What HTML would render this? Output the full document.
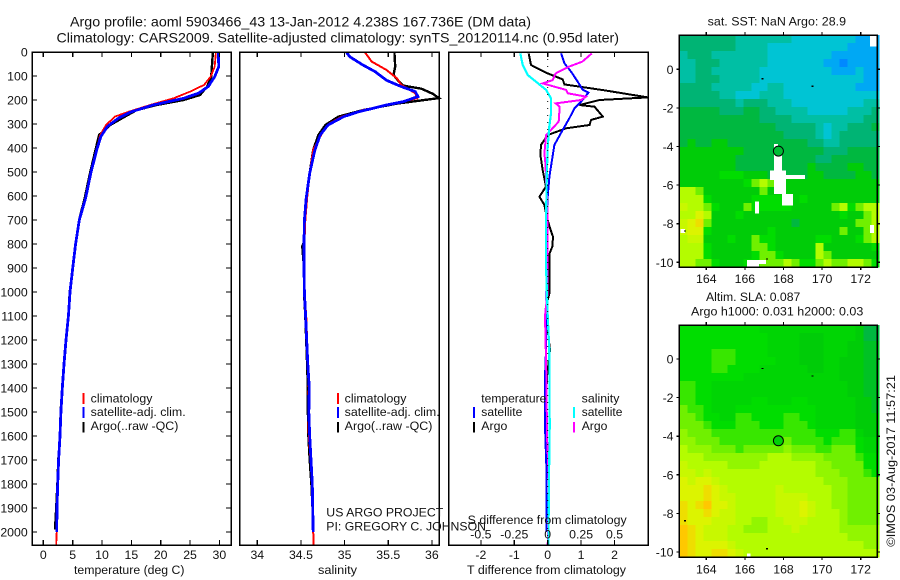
<!DOCTYPE html>
<html lang="en">
<head>
<meta charset="utf-8">
<title>Argo profile 5903466_43</title>
<style>
html,body{margin:0;padding:0;background:#fff;}
svg{display:block;font-family:"Liberation Sans",sans-serif;fill:#000;}
text{font-size:12.3px;fill:#111;}
.line{fill:none;shape-rendering:crispEdges;stroke-linejoin:miter;}
.frame{fill:none;stroke:#000;stroke-width:1.5;shape-rendering:crispEdges;}
.tick{stroke:#000;stroke-width:1.2;shape-rendering:crispEdges;}
.cell{shape-rendering:crispEdges;}
</style>
</head>
<body>
<svg id="fig" width="900" height="580" viewBox="0 0 900 580" xmlns="http://www.w3.org/2000/svg">
  <rect width="900" height="580" fill="#fff"/>
  <text x="70" y="26.7" style="font-size:14px" textLength="461" lengthAdjust="spacingAndGlyphs">Argo profile: aoml 5903466_43 13-Jan-2012 4.238S 167.736E (DM data)</text>
  <text x="56.5" y="42.7" style="font-size:14px" textLength="562.5" lengthAdjust="spacingAndGlyphs">Climatology: CARS2009. Satellite-adjusted climatology: synTS_20120114.nc (0.95d later)</text>

  <g id="plots"></g>
  <g id="maps"></g>

  <text x="74" y="574" textLength="110.5" lengthAdjust="spacingAndGlyphs">temperature (deg C)</text>
  <text x="318" y="574" textLength="39" lengthAdjust="spacingAndGlyphs">salinity</text>
  <text x="467" y="574" textLength="159" lengthAdjust="spacingAndGlyphs">T difference from climatology</text>
  <text x="467.7" y="524" textLength="159" lengthAdjust="spacingAndGlyphs">S difference from climatology</text>

  <rect x="82.5" y="393" width="2" height="11" fill="#f00"/>
  <rect x="82.5" y="407" width="2" height="11" fill="#00f"/>
  <rect x="82.5" y="422" width="2" height="10.5" fill="#000"/>
  <text x="90.7" y="402.7" textLength="61.7" lengthAdjust="spacingAndGlyphs">climatology</text>
  <text x="90.7" y="416.2" textLength="95" lengthAdjust="spacingAndGlyphs">satellite-adj. clim.</text>
  <text x="90.7" y="430.2" textLength="87.7" lengthAdjust="spacingAndGlyphs">Argo(..raw -QC)</text>

  <rect x="337" y="393" width="2" height="11" fill="#f00"/>
  <rect x="337" y="407" width="2" height="11" fill="#00f"/>
  <rect x="337" y="422" width="2" height="10.5" fill="#000"/>
  <text x="344.7" y="402.7" textLength="61.7" lengthAdjust="spacingAndGlyphs">climatology</text>
  <text x="344.7" y="416.2" textLength="95" lengthAdjust="spacingAndGlyphs">satellite-adj. clim.</text>
  <text x="344.7" y="430.2" textLength="87.7" lengthAdjust="spacingAndGlyphs">Argo(..raw -QC)</text>

  <text x="481.3" y="402.7" textLength="65" lengthAdjust="spacingAndGlyphs">temperature</text>
  <rect x="473" y="407" width="2" height="11" fill="#00f"/>
  <rect x="473" y="422" width="2" height="10.5" fill="#000"/>
  <text x="481.3" y="416.2" textLength="41" lengthAdjust="spacingAndGlyphs">satellite</text>
  <text x="481.3" y="430.2" textLength="26" lengthAdjust="spacingAndGlyphs">Argo</text>
  <text x="581.7" y="402.7" textLength="37.7" lengthAdjust="spacingAndGlyphs">salinity</text>
  <rect x="573" y="407" width="2" height="11" fill="#0ff"/>
  <rect x="573" y="422" width="2" height="10.5" fill="#f0f"/>
  <text x="581.7" y="416.2" textLength="40.7" lengthAdjust="spacingAndGlyphs">satellite</text>
  <text x="581.7" y="430.2" textLength="25.7" lengthAdjust="spacingAndGlyphs">Argo</text>

  <text x="326.3" y="516.7" textLength="117" lengthAdjust="spacingAndGlyphs">US ARGO PROJECT</text>
  <text x="326.3" y="530.7" textLength="159.7" lengthAdjust="spacingAndGlyphs">PI: GREGORY C. JOHNSON</text>

  <text x="707.7" y="25.3" textLength="138.3" lengthAdjust="spacingAndGlyphs">sat. SST: NaN Argo: 28.9</text>
  <text x="706" y="301" textLength="94.3" lengthAdjust="spacingAndGlyphs">Altim. SLA: 0.087</text>
  <text x="691" y="315.3" textLength="172.3" lengthAdjust="spacingAndGlyphs">Argo h1000: 0.031 h2000: 0.03</text>
  <text transform="translate(895 546.7) rotate(-90)" x="0" y="0" textLength="171.7" lengthAdjust="spacingAndGlyphs">©IMOS 03-Aug-2017 11:57:21</text>
</svg>

<script>
// ---- axis tick values ----
const depthTicks = [0,100,200,300,400,500,600,700,800,900,1000,1100,1200,1300,1400,1500,1600,1700,1800,1900,2000];
const tempTicks = [0,5,10,15,20,25,30];
const salTicks = [34,34.5,35,35.5,36];
const salTickLabels = ['34','34.5','35','35.5','36'];
const tDiffTicks = [-2,-1,0,1,2];
const sDiffTicks = [-0.5,-0.25,0,0.25,0.5];
const sDiffTickLabels = ['-0.5','-0.25','0','0.25','0.5'];
const lonTicks = [164,166,168,170,172];
const latTicks = [0,-2,-4,-6,-8,-10];

// ---- temperature profiles ----
const tempClimDepth = [0,61,103,137,165,193,221,249,269,304,346,408,505,609,700,800,901,1001,1101,1201,1301,1401,1500,1600,1700,1800,1900,2000,2054];
const tempClimVal = [29.4,29.2,28.5,27.4,25,22.2,18.2,14.5,12.2,10.7,9.7,9.1,8.1,7.2,6.2,5.55,5.05,4.6,4.3,3.9,3.55,3.3,3.05,2.85,2.6,2.45,2.33,2.28,2.2];
const tempArgoDepth = [0,103,144,179,200,221,242,269,304,346,408,505,609,700,800,901,1001,1101,1201,1301,1401,1500,1600,1700,1800,1900,1990];
const tempArgoVal = [28.9,28.6,27.9,26.7,23.9,19.3,15.9,13.9,11.4,9.5,8.9,7.95,7.05,6.1,5.5,5.0,4.5,4.27,3.9,3.5,3.22,2.95,2.85,2.55,2.4,2.2,2.0];
const tempSatDepth = [0,61,103,144,172,193,221,249,276,311,353,408,505,609,700,800,901,1001,1101,1201,1301,1401,1500,1600,1700,1800,1900,2000];
const tempSatVal = [29.8,29.9,29.2,28.1,26.4,23.9,18.7,15,12.8,10.9,9.8,9.1,8.1,7.2,6.14,5.5,5,4.55,4.27,3.87,3.53,3.24,3,2.85,2.6,2.45,2.33,2.28];

// ---- salinity profiles ----
const salClimDepth = [0,40,75,110,137,172,193,221,242,269,297,339,408,505,609,700,800,900,1000,1100,1200,1300,1400,1500,1600,1700,1800,2000,2054];
const salClimVal = [35.23,35.31,35.48,35.6,35.65,35.81,35.83,35.48,35.21,34.97,34.83,34.74,34.64,34.6,34.57,34.55,34.54,34.54,34.54,34.56,34.57,34.58,34.59,34.585,34.59,34.61,34.63,34.64,34.646];
const salArgoDepth = [0,61,96,118,140,153,174,192,215,242,269,304,346,408,505,609,700,790,810,900,1000,1100,1200,1300,1400,1500,1600,1700,1800,1960];
const salArgoVal = [35.57,35.58,35.56,35.61,35.67,35.88,36.01,36.08,35.6,35.21,34.93,34.78,34.7,34.64,34.6,34.56,34.54,34.535,34.515,34.535,34.535,34.55,34.56,34.57,34.58,34.58,34.585,34.6,34.62,34.64];
const salSatDepth = [0,20,54,82,118,144,165,186,207,221,249,269,304,346,408,505,609,700,800,900,1000,1100,1200,1300,1400,1500,1600,1700,1800,1900,2000];
const salSatVal = [35.02,35.06,35.21,35.35,35.48,35.65,35.81,35.84,35.67,35.48,35.16,34.99,34.81,34.72,34.66,34.6,34.56,34.54,34.535,34.535,34.54,34.553,34.566,34.578,34.596,34.59,34.6,34.615,34.63,34.635,34.64];

// ---- difference profiles ----
const tDiffArgoDepth = [6,54,89,114,135,161,189,200,221,228,269,283,304,318,346,387,429,492,561,603,637,686,729,770,810,838,866,1005,1075,1241,1353,1561,1769,2000];
const tDiffArgoVal = [-0.57,-0.5,0,0.45,0.5,1.75,3.0,1.55,0.95,1.4,1.65,1.3,1.25,0.55,0,-0.2,-0.22,-0.15,-0.05,-0.25,-0.1,-0.03,0.06,0.16,0.14,0.06,0.05,0.05,-0.07,0.07,-0.02,-0.07,-0.03,-0.03];
const tDiffSatDepth = [6,47,82,124,158,169,207,235,276,325,387,450,519,603,686,1000,1241,1353,1561,1769,2000];
const tDiffSatVal = [0.4,0.5,0.7,0.9,1.05,1.22,1.0,0.8,0.65,0.45,0.2,0.13,0.05,0,-0.03,-0.03,-0.05,-0.08,-0.08,-0.03,-0.03];
const sDiffSatDepth = [6,54,96,124,158,193,256,311,394,506,686,900,1100,1241,1561,1769,2054];
const sDiffSatVal = [-0.205,-0.187,-0.15,-0.087,-0.012,0.025,0.025,0.012,0,-0.007,-0.012,-0.012,0,0.012,0.015,0.01,0.005];
const sDiffArgoDepth = [6,40,61,89,117,131,158,172,186,200,214,228,290,318,346,422,464,686,1000,1100,1353,1600,1800,2054];
const sDiffArgoVal = [0.33,0.26,0.16,0.06,0.037,-0.037,0.137,0.15,0.287,0.25,0.06,0.09,0.082,0.037,-0.012,-0.025,-0.017,0,0,-0.02,-0.01,-0.005,0.01,0];

// ---- map colour scale (index = level value) ----
const levelColors = ['#0088ff','#00a8f4','#00c4d4','#00bfa4','#00b474','#00b840','#00cc08','#00dd00','#70f000','#b4fc00','#dcf400','#ffc800'];

// ---- satellite SST map levels (rows north to south) ----
const sstRows = [
[4,4,4,4,4,4,4,3,3,3,3,3,3,3,2,2,2,2,2,2,2,2,1,1,1],
[4,4,4,4,4,4,4,3,3,3,3,2,2,2,2,2,2,2,2,2,2,1,1,1,1],
[3,4,4,4,3,3,3,3,3,3,3,2,2,2,2,2,2,2,2,1,1,1,1,1,1],
[3,3,4,4,4,3,3,3,3,3,3,2,2,2,2,2,2,2,1,1,0,1,1,1,1],
[3,3,4,4,3,3,3,3,3,3,2,2,2,2,2,2,2,2,2,1,1,1,2,1,1],
[3,3,4,4,4,3,3,3,3,3,2,2,2,2,2,2,2,2,2,2,2,2,2,1,1],
[4,4,4,4,3,3,3,3,3,2,2,3,3,2,2,2,2,2,2,2,2,2,1,1,1],
[4,4,4,4,4,3,3,2,2,2,3,3,3,2,2,2,2,2,2,2,2,2,2,2,2],
[4,4,4,4,4,4,4,3,4,4,4,3,3,3,2,2,2,2,2,2,2,2,2,3,3],
[5,5,5,5,5,4,4,4,5,5,4,4,3,3,3,3,2,2,2,2,2,3,3,3,4],
[5,5,5,5,5,5,5,5,5,5,4,4,4,4,3,3,3,3,3,3,3,3,3,4,4],
[5,5,5,5,5,5,5,5,5,5,5,5,4,4,4,4,4,3,2,3,3,4,4,4,5],
[5,5,5,5,5,5,5,5,5,5,5,5,5,4,4,4,4,3,2,3,4,4,4,4,4],
[5,6,5,5,6,6,5,5,5,5,5,5,5,5,5,5,4,4,3,3,4,4,4,4,4],
[6,6,6,6,6,6,6,6,5,5,5,5,5,5,5,5,5,5,4,4,4,5,5,5,5],
[6,6,6,6,6,6,6,5,5,5,5,5,5,5,5,5,5,4,4,5,5,5,5,5,5],
[6,6,6,6,6,6,6,5,5,5,5,5,5,5,5,5,6,5,5,5,5,6,6,5,5],
[6,6,6,6,6,7,7,7,6,6,6,5,5,5,5,5,6,6,5,5,5,5,6,6,5],
[6,6,6,6,6,6,6,6,7,8,9,8,6,6,6,6,6,6,6,6,6,6,6,6,6],
[9,9,8,6,6,6,6,6,6,6,8,6,6,6,6,6,6,6,6,6,6,6,6,6,6],
[9,9,9,7,6,6,6,6,6,7,7,7,7,7,6,7,6,6,6,6,6,6,6,6,6],
[9.5,9,9,8,7,6,6,6,8,7,7,7,7,7,6,6,6,6,6,8,9,7,8,9,9],
[9,9,10,9,6,6,6,7,6,6,6,6,6,6,6,6,6,6,6,6,7,6,6,8,9],
[9.5,10,10.5,8,6,6,6,6,6,6,6,6,6,6,5,6,6,6,6,6,6,6,8,8,9],
[9.5,10,10,7,6,6,6,6,6,6,6,7,6,6,6,6,6,6,6,6,8,6,6,8,9],
[9,9.5,9.5,6,6,6,7,6,6,8,7,7,6,6,6,6,6,7,7,6,6,6,7,8,9],
[9,9,9,7,6,6,6,6,6,8,8,7,6,6,6,6,6,9,6,6,6,6,6,6,7],
[9,9,9,7,6,6,6,6,6,7,8,8,7,6,6,6,6,9,8,6,6,6,6,6,6],
[9,9,8,8,7,6,6,6,7,7,8,8,8,9,8,7,7,8,9,8,8,9,9,8,7]
];

// ---- altimetry SLA map levels (rows north to south) ----
const slaRows = [
[7,7,7,7,7,7,7,7,7,7,6.5,6.5,6.5,6.5,6.5,6.5,6.5,6.5,6.5,6.5,6.5,6.5,6,5,5],
[7,7,7,7,7,7,7,7,7,7,7,6.5,6.5,6.5,6.5,6,6,6,6.5,6.5,6.5,6.5,6,5,5],
[7,7,7,7,7,7,7,7,7,7,7,6.5,6.5,6.5,6.5,6,6,6,6.5,6.5,6.5,6,6,5.5,5.5],
[7,7,7,7,7.5,7.5,7.5,7,7,7,7,6.5,6.5,6.5,6.5,6,6,6,6.5,6.5,6.5,6,6,5.5,5.5],
[7,7,7,7,7.5,7.5,7.5,7,7,7,7,7,6.5,6.5,6.5,6,6,6,6.5,6.5,6,6,6,5.5,5.5],
[7,7,7,7,7.5,7.5,7,7,7,7,6.5,6.5,6.5,6.5,6.5,6.5,6,6,6.5,6.5,6,6,6,5.5,5.5],
[7,7,7,7,7,7,7,7,6.5,6.5,6.5,6.5,6.5,6.5,6.5,6.5,6.5,6.5,6.5,6.5,6,6,6,5.5,5.5],
[7.5,7.5,7,7,6.5,6.5,6.5,6.5,6.5,6.5,6.5,6.5,6.5,6.5,6.5,6.5,6.5,6.5,6.5,6.5,6.5,6,6,5.5,5.5],
[7.5,7.5,7,7,6.5,6.5,6.5,6.5,6.5,6.5,6.5,6.5,6.5,6.5,6.5,6.5,6.5,6.5,6.5,6.5,6.5,6,6,5.5,5.5],
[7.5,7.5,7,7,6.5,6.5,6.5,6.5,6.5,7,7,6.5,6.5,6.5,7,7,6.5,6.5,6.5,6.5,6.5,6.5,6,6,5.5],
[8,7.5,7.5,7,6.5,6.5,6.5,7,7,7,7,7,7,7,7,7,7,6.5,6.5,6.5,6.5,6.5,6,6,5.5],
[8,8,7.5,7,7,6.5,6.5,7.5,7.5,7,7,7,7,7.5,7.5,7,7,6.5,6.5,6.5,6.5,6.5,6,6,6],
[8,8,8,7.5,7,7,7,7.5,7.5,7.5,7,7,7,7.5,7.5,7.5,7,6.5,6.5,6.5,6.5,6.5,6,6,6],
[8.5,8,8,8,7.5,7.5,7.5,7.5,7.5,7.5,7.5,7.5,7.5,7.5,7.5,7.5,7.5,7,7,7,7.5,7.5,6.5,6,6],
[8.5,8.5,8,8,8,7.5,7.5,7.5,7.5,7.5,7.5,7.5,7.5,8,7.5,7.5,7.5,7.5,7,7.5,7.5,7.5,7,6.5,6.5],
[9,8.5,8.5,8.5,8,8,8,7.5,8,8,8,8,8,8.5,8,8,8,7.5,7.5,8,8,8,7,6.5,6.5],
[9,9,9,8.5,8.5,8.5,8.5,8.5,8.5,8.5,8.5,9,9,9,8.5,8.5,8.5,8.5,8,8,8,8,7.5,7,7],
[9.5,9,9,9,9,9,8.5,8.5,8.5,8.5,9,9,9,9,9,9,9,8.5,8.5,8,8,8,8,7,7],
[9.5,9.5,9,9.5,9,9,9,9,9,9,9,9,9,9,9,9,9,8.5,8.5,8.5,8,8,8,7.5,7],
[10,9.5,10,10,9.5,9,9,9,9,9,9,9,9,9,9,9,9,9,8.5,8.5,8.5,8,8,8,8],
[10,10,10,10.5,10,9.5,9,9,9,9,9,9,9.5,9,9,9,9,9,9,8.5,8.5,8,8,8,8],
[10,10,10,10.5,10,9.5,9.5,9,9,9,9,9,9.5,9.5,9.5,9.5,9,9,9,8.5,8.5,8,8,8,8],
[10.5,10,10.5,11,10,10,9.5,9,9,9,9,9,9.5,9.5,9.5,10,9.5,9,9,8.5,8.5,8,8,8,8],
[10.5,10,10,10.5,10,9.5,9.5,9,9,9,9,9,9.5,9.5,9.5,10,9.5,9,9,9,8.5,8,8,8,8],
[10.5,10,10,10,9.5,9.5,9.5,9,9,8.5,8.5,9,9,9.5,9.5,9.5,9,9,9,9,8.5,8,8,8,8],
[11,10.5,10,9.5,9.5,9.5,9,9,8.5,8.5,8.5,9,9,9,9.5,9,9,9,9,9,8.5,8.5,8.5,8.5,8.5],
[11,10.5,10,9.5,9.5,9.5,9,9,9,9,9,9,9,9,9,9,9,9,9,9,9,8.5,8.5,8.5,8.5],
[11,10.5,10,10,10,10,9.5,9,9,9,9,9,9,9,9,9,9,9,9,9,9,9,9,8.5,8.5],
[11,10.5,10,10,10.5,10.5,10,9.5,9,9,9,9,9,9,9,9,9,9,9,9,9,9,9,9,9]
];

// ---- missing-data patches: lon west, lon east, lat north, lat south ----
const sstMissing = [
[172.48,172.86,1.74,1.17],[167.51,167.71,-3.87,-4.35],[167.51,167.92,-4.35,-5.25],[167.3,168.13,-5.25,-5.73],
[168.13,169.11,-5.47,-5.68],[167.51,168.13,-5.73,-6.46],[167.92,168.49,-6.46,-7.06],[166.52,166.73,-6.86,-7.48],
[172.48,172.69,-8.07,-8.48],[162.67,162.9,-8.27,-8.48],[166.12,167.09,-9.88,-10.09],[166.12,166.73,-10.09,-10.24]
];
const slaMissing = [[166.12,166.3,-10.09,-10.24]];

// ---- small island specks and float position ----
const islandLon = [166.92,169.5,162.9,167.15];
const islandLat = [-0.49,-0.88,-8.38,-9.83];
const floatLon = 167.736;
const floatLat = -4.238;
const sstAtFloat = 5.2;
const slaAtFloat = 6.3;

// ---- helpers ----
const NS = 'http://www.w3.org/2000/svg';
const plots = document.getElementById('plots');
const maps = document.getElementById('maps');
function mk(tag, parent) {
  const el = document.createElementNS(NS, tag);
  parent.appendChild(el);
  return el;
}
function depthY(d) { return 52 + 0.24 * d; }
function tempX(v) { return 43.3 + 5.87 * v; }
function salX(v) { return 257.3 + 87.3 * (v - 34); }
function tDiffX(v) { return 547.7 + 33.4 * v; }
function sDiffX(v) { return 547.7 + 133.6 * v; }
function tick(parent, x1, y1, x2, y2) {
  const t = mk('line', parent);
  t.setAttribute('class', 'tick');
  t.setAttribute('x1', x1); t.setAttribute('y1', y1);
  t.setAttribute('x2', x2); t.setAttribute('y2', y2);
  
  
}
function label(parent, s, x, y, anchor) {
  const t = mk('text', parent);
  t.textContent = s;
  t.setAttribute('x', x); t.setAttribute('y', y);
  t.setAttribute('text-anchor', anchor);
  
  
}
function profile(name, depths, vals, xf, color, width) {
  const p = mk('polyline', plots);
  p.setAttribute('class', 'line');
  p.setAttribute('stroke', color);
  p.setAttribute('stroke-width', width);
  p.setAttribute('points', depths.map((d, i) => xf(vals[i]).toFixed(1) + ',' + depthY(d).toFixed(1)).join(' '));
  
  
}
function frame(parent, x, y, w, h, name) {
  const r = mk('rect', parent);
  r.setAttribute('class', 'frame');
  r.setAttribute('x', x); r.setAttribute('y', y);
  r.setAttribute('width', w); r.setAttribute('height', h);
  
  
}

// ---- profile lines ----
profile('temperature-argo-line', tempArgoDepth, tempArgoVal, tempX, '#000', 2.4);
profile('temperature-climatology-line', tempClimDepth, tempClimVal, tempX, '#f00', 1.8);
profile('temperature-satellite-line', tempSatDepth, tempSatVal, tempX, '#00f', 2.8);
profile('salinity-argo-line', salArgoDepth, salArgoVal, salX, '#000', 2.4);
profile('salinity-climatology-line', salClimDepth, salClimVal, salX, '#f00', 2);
profile('salinity-satellite-line', salSatDepth, salSatVal, salX, '#00f', 2.8);
profile('t-diff-argo-line', tDiffArgoDepth, tDiffArgoVal, tDiffX, '#000', 2);
profile('t-diff-satellite-line', tDiffSatDepth, tDiffSatVal, tDiffX, '#00f', 2);
profile('s-diff-argo-line', sDiffArgoDepth, sDiffArgoVal, sDiffX, '#f0f', 2);
profile('s-diff-satellite-line', sDiffSatDepth, sDiffSatVal, sDiffX, '#0ff', 2.2);

const zero = mk('line', plots);
zero.setAttribute('x1', tDiffX(0)); zero.setAttribute('x2', tDiffX(0));
zero.setAttribute('y1', depthY(0)); zero.setAttribute('y2', depthY(2054));
zero.setAttribute('stroke', '#000');
zero.setAttribute('stroke-width', 1);
zero.setAttribute('stroke-dasharray', '1 6');



// ---- profile frames ----
const plotTop = depthY(0), plotBottom = 545;
frame(plots, 32.3, plotTop, 198.7, plotBottom - plotTop, 'temperature-plot-frame');
frame(plots, 239.5, plotTop, 199.8, plotBottom - plotTop, 'salinity-plot-frame');
frame(plots, 448.7, plotTop, 199.6, plotBottom - plotTop, 'difference-plot-frame');

depthTicks.forEach(d => {
  const y = depthY(d);
  tick(plots, 32.3, y, 37, y);
  tick(plots, 226, y, 231, y);
  label(plots, String(d), 27.7, y + 4.5, 'end');
});
tempTicks.forEach(v => {
  const x = tempX(v);
  tick(plots, x, plotTop, x, plotTop + 5);
  tick(plots, x, plotBottom - 5, x, plotBottom);
  label(plots, String(v), x, 559, 'middle');
});
salTicks.forEach((v, i) => {
  const x = salX(v);
  tick(plots, x, plotTop, x, plotTop + 5);
  tick(plots, x, plotBottom - 5, x, plotBottom);
  label(plots, salTickLabels[i], x, 559, 'middle');
});
tDiffTicks.forEach(v => {
  const x = tDiffX(v);
  tick(plots, x, plotTop, x, plotTop + 5);
  tick(plots, x, plotBottom - 5, x, plotBottom);
  label(plots, String(v), x, 559, 'middle');
});
sDiffTicks.forEach((v, i) => {
  label(plots, sDiffTickLabels[i], sDiffX(v), 538.3, 'middle');
});

// ---- maps ----
function levelColor(v) {
  const i = Math.min(Math.floor(v), levelColors.length - 2);
  const f = v - i;
  const a = levelColors[i], b = levelColors[i + 1];
  const ch = k => Math.round(parseInt(a.substr(k, 2), 16) * (1 - f) + parseInt(b.substr(k, 2), 16) * f);
  return 'rgb(' + ch(1) + ',' + ch(3) + ',' + ch(5) + ')';
}
function drawMap(prefix, rows, missing, zeroLatY, top, bottom, floatLevel, xLabelY) {
  const pxPerDeg = 19.3;
  const lonX = lon => 706.3 + (lon - 164) * pxPerDeg;
  const latY = lat => zeroLatY - lat * pxPerDeg;
  const lonMin = 162.6;
  const latMax = (zeroLatY - top) / pxPerDeg;
  const cellDeg = 8 / pxPerDeg;
  rows.forEach((row, r) => {
    row.forEach((v, c) => {
      const x0 = lonX(lonMin + c * cellDeg), y0 = latY(latMax - r * cellDeg);
      const cell = mk('rect', maps);
      cell.setAttribute('class', 'cell');
      cell.setAttribute('x', x0.toFixed(1));
      cell.setAttribute('y', y0.toFixed(1));
      cell.setAttribute('width', (8.3).toFixed(1));
      cell.setAttribute('height', (8.3).toFixed(1));
      cell.setAttribute('fill', levelColor(v));
      
      
    });
  });
  missing.forEach(m => {
    const patch = mk('rect', maps);
    patch.setAttribute('class', 'cell');
    patch.setAttribute('x', lonX(m[0]));
    patch.setAttribute('y', latY(m[2]));
    patch.setAttribute('width', lonX(m[1]) - lonX(m[0]));
    patch.setAttribute('height', latY(m[3]) - latY(m[2]));
    patch.setAttribute('fill', '#fff');
    
    
  });
  islandLon.forEach((lon, i) => {
    const speck = mk('rect', maps);
    speck.setAttribute('class', 'cell');
    speck.setAttribute('x', lonX(lon) - 1);
    speck.setAttribute('y', latY(islandLat[i]) - 0.7);
    speck.setAttribute('width', 2);
    speck.setAttribute('height', 1.4);
    speck.setAttribute('fill', '#000');
    
    
  });
  const marker = mk('circle', maps);
  marker.setAttribute('cx', lonX(floatLon));
  marker.setAttribute('cy', latY(floatLat));
  marker.setAttribute('r', 5);
  marker.setAttribute('fill', levelColor(floatLevel));
  marker.setAttribute('stroke', '#000');
  marker.setAttribute('stroke-width', 1);
  
  

  frame(maps, 679.3, top, 198, bottom - top, prefix + '-map-frame');
  lonTicks.forEach(v => {
    const x = lonX(v);
    tick(maps, x, top - 3, x, top);
    tick(maps, x, bottom, x, bottom + 3);
    label(maps, String(v), x, xLabelY, 'middle');
  });
  latTicks.forEach(v => {
    const y = latY(v);
    tick(maps, 877.3, y, 880, y);
    tick(maps, 676.5, y, 679.3, y);
    label(maps, String(v), 673.5, y + 4.5, 'end');
  });
}
drawMap('sst', sstRows, sstMissing, 69.3, 35, 267, sstAtFloat, 283);
drawMap('sla', slaRows, slaMissing, 359, 325, 557, slaAtFloat, 573.3);
</script>
</body>
</html>
